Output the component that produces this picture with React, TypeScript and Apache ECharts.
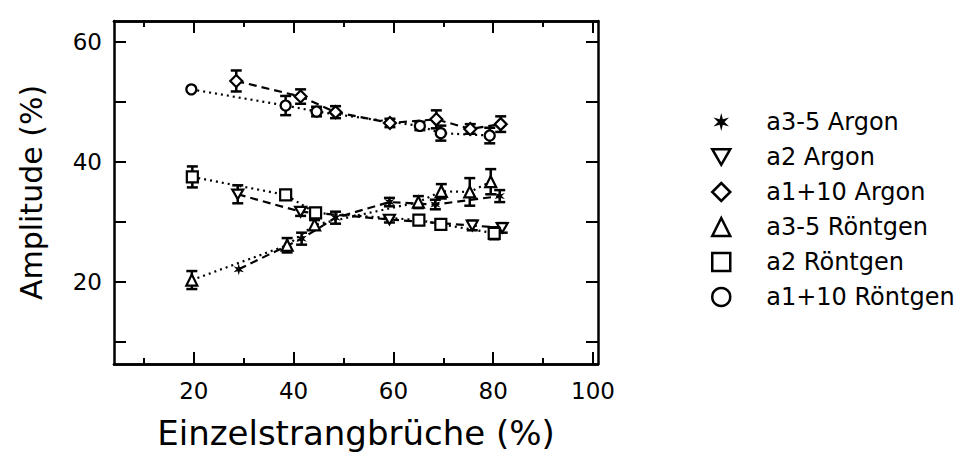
import React, { useEffect, useRef } from "react";
import * as echarts from "echarts";

// ---- axis ticks ----
const xMajorTicks = [20, 40, 60, 80, 100];
const xMinorTicks = [10, 30, 50, 70, 90];
const yTicks = [10, 20, 30, 40, 50, 60];
const yLabels = [20, 40, 60];

// ---- series names ----
const seriesNames = [
  "a3-5 Argon",
  "a2 Argon",
  "a1+10 Argon",
  "a3-5 Röntgen",
  "a2 Röntgen",
  "a1+10 Röntgen",
];

// ---- data (x = Einzelstrangbrüche %, y = Amplitude %, err = half error bar) ----
const a35ArgonX = [29, 41.6, 48.4, 59.2, 68.4, 81.3];
const a35ArgonY = [22.1, 27.2, 30.7, 33.3, 32.9, 34.3];
const a35ArgonErr = [0, 1.0, 1.0, 0.7, 0.8, 1.0];

const a2ArgonX = [28.8, 41.4, 59.2, 75.8, 81.8];
const a2ArgonY = [34.6, 31.7, 30.4, 29.4, 29.0];
const a2ArgonErr = [1.5, 0.7, 0.5, 0.8, 0.8];

const a110ArgonX = [28.5, 41.4, 48.4, 59.3, 68.6, 75.4, 81.5];
const a110ArgonY = [53.5, 50.9, 48.3, 46.5, 47.1, 45.5, 46.3];
const a110ArgonErr = [1.75, 1.2, 1.0, 0.7, 1.5, 0.8, 1.3];

const a35RoentgenX = [19.6, 38.7, 44.2, 65.0, 69.6, 75.3, 79.5];
const a35RoentgenY = [20.3, 26.1, 29.5, 33.3, 35.1, 35.0, 36.7];
const a35RoentgenErr = [1.5, 1.2, 0.8, 1.0, 1.2, 2.3, 2.1];

const a2RoentgenX = [19.7, 38.4, 44.4, 65.1, 69.5, 80.2];
const a2RoentgenY = [37.5, 34.5, 31.5, 30.3, 29.6, 28.1];
const a2RoentgenErr = [1.75, 0, 0.8, 0.8, 0.8, 1.0];

const a110RoentgenX = [19.5, 38.4, 44.6, 65.3, 69.5, 79.3];
const a110RoentgenY = [52.1, 49.4, 48.4, 46.0, 44.8, 44.4];
const a110RoentgenErr = [0, 1.6, 0.8, 0.7, 1.25, 1.3];

// ---- symbols ----
function starPath(): string {
  const pts: string[] = [];
  for (let k = 0; k < 12; k++) {
    const r = k % 2 === 0 ? 10 : 3.6;
    const a = (-90 + k * 30) * (Math.PI / 180);
    pts.push((10 + r * Math.cos(a)).toFixed(2) + "," + (10 + r * Math.sin(a)).toFixed(2));
  }
  return "path://M" + pts.join("L") + "Z";
}
const STAR = starPath();
const DOWN_TRI = "path://M0,0L20,0L10,17.3Z";

const FONT = "DejaVu Sans";

export default function App() {
  const ref = useRef<HTMLDivElement>(null);

  useEffect(() => {
    if (!ref.current) return;
    const chart = echarts.init(ref.current, null, { renderer: "svg" });

    const zip = (xs: number[], ys: number[]) => xs.map((x, i) => [x, ys[i]]);
    const errData: number[][] = [];
    const addErr = (xs: number[], ys: number[], es: number[]) => {
      xs.forEach((x, i) => {
        if (es[i] > 0) errData.push([x, ys[i] - es[i], ys[i] + es[i]]);
      });
    };
    addErr(a35ArgonX, a35ArgonY, a35ArgonErr);
    addErr(a2ArgonX, a2ArgonY, a2ArgonErr);
    addErr(a110ArgonX, a110ArgonY, a110ArgonErr);
    addErr(a35RoentgenX, a35RoentgenY, a35RoentgenErr);
    addErr(a2RoentgenX, a2RoentgenY, a2RoentgenErr);
    addErr(a110RoentgenX, a110RoentgenY, a110RoentgenErr);

    const hollow = { color: "#fff", borderColor: "#000", borderWidth: 2.2 };
    const dashed = { color: "#000", width: 2.2, type: [8, 5] as any };
    const dotted = { color: "#000", width: 2.2, type: [2, 4] as any };

    const mkLine = (name: string, data: number[][], symbol: string, itemStyle: any, lineStyle: any, size = 11) => ({
      name,
      type: "line",
      data,
      symbol,
      symbolSize: size,
      symbolKeepAspect: true,
      itemStyle,
      lineStyle,
      z: 3,
      emphasis: { disabled: true },
    });

    const xBase = {
      type: "value",
      min: 4,
      max: 101,
      gridIndex: 0,
      splitLine: { show: false },
      axisLine: { show: true, onZero: false, lineStyle: { color: "#000", width: 2.5 } },
    };
    const yBase = {
      type: "value",
      min: 6.3,
      max: 63.5,
      gridIndex: 0,
      splitLine: { show: false },
      axisLine: { show: true, onZero: false, lineStyle: { color: "#000", width: 2.5 } },
    };

    const option: any = {
      animation: false,
      backgroundColor: "#fff",
      grid: { left: 114, top: 21, width: 484, height: 343 },
      xAxis: [
        {
          ...xBase,
          position: "bottom",
          name: "Einzelstrangbrüche (%)",
          nameLocation: "middle",
          nameGap: 52,
          nameTextStyle: { fontFamily: FONT, fontSize: 34, color: "#000" },
          axisTick: { show: true, inside: true, length: 12, customValues: xMajorTicks, lineStyle: { color: "#000", width: 2 } },
          axisLabel: { show: true, customValues: xMajorTicks, fontFamily: FONT, fontSize: 23, color: "#000", margin: 15 },
        },
        {
          ...xBase,
          position: "bottom",
          axisTick: { show: true, inside: true, length: 6, customValues: xMinorTicks, lineStyle: { color: "#000", width: 2 } },
          axisLabel: { show: false },
        },
        {
          ...xBase,
          position: "top",
          axisTick: { show: true, inside: true, length: 12, customValues: xMajorTicks, lineStyle: { color: "#000", width: 2 } },
          axisLabel: { show: false },
        },
        {
          ...xBase,
          position: "top",
          axisTick: { show: true, inside: true, length: 6, customValues: xMinorTicks, lineStyle: { color: "#000", width: 2 } },
          axisLabel: { show: false },
        },
      ],
      yAxis: [
        {
          ...yBase,
          position: "left",
          name: "Amplitude (%)",
          nameLocation: "middle",
          nameGap: 68,
          nameTextStyle: { fontFamily: FONT, fontSize: 30, color: "#000" },
          axisTick: { show: true, inside: true, length: 12, customValues: yTicks, lineStyle: { color: "#000", width: 2 } },
          axisLabel: { show: true, customValues: yLabels, fontFamily: FONT, fontSize: 23, color: "#000", margin: 12 },
        },
        {
          ...yBase,
          position: "right",
          axisTick: { show: true, inside: true, length: 12, customValues: yTicks, lineStyle: { color: "#000", width: 2 } },
          axisLabel: { show: false },
        },
      ],
      legend: {
        orient: "vertical",
        left: 711,
        top: 110,
        padding: 0,
        itemWidth: 18,
        itemHeight: 18,
        itemGap: 11,
        selectedMode: false,
        textStyle: { fontFamily: FONT, fontSize: 24, color: "#000", padding: [0, 0, 0, 31] },
        data: [
          { name: seriesNames[0], icon: STAR, itemStyle: { color: "#000", borderWidth: 0 } },
          { name: seriesNames[1], icon: DOWN_TRI, itemStyle: { ...hollow, borderWidth: 2.5 } },
          { name: seriesNames[2], icon: "diamond", itemStyle: { ...hollow, borderWidth: 2.5 } },
          { name: seriesNames[3], icon: "triangle", itemStyle: { ...hollow, borderWidth: 2.5 } },
          { name: seriesNames[4], icon: "rect", itemStyle: { ...hollow, borderWidth: 2.5 } },
          { name: seriesNames[5], icon: "circle", itemStyle: { ...hollow, borderWidth: 2.5 } },
        ],
      },
      series: [
        {
          name: "errors",
          type: "custom",
          xAxisIndex: 0,
          yAxisIndex: 0,
          data: errData,
          encode: { x: 0, y: [1, 2] },
          z: 2,
          silent: true,
          renderItem: (params: any, api: any) => {
            const x = api.value(0);
            const p1 = api.coord([x, api.value(1)]);
            const p2 = api.coord([x, api.value(2)]);
            const st = { stroke: "#000", lineWidth: 2.5 };
            return {
              type: "group",
              children: [
                { type: "line", shape: { x1: p1[0], y1: p1[1], x2: p2[0], y2: p2[1] }, style: st },
                { type: "line", shape: { x1: p1[0] - 5.5, y1: p1[1], x2: p1[0] + 5.5, y2: p1[1] }, style: st },
                { type: "line", shape: { x1: p2[0] - 5.5, y1: p2[1], x2: p2[0] + 5.5, y2: p2[1] }, style: st },
              ],
            };
          },
        },
        mkLine(seriesNames[0], zip(a35ArgonX, a35ArgonY), STAR, { color: "#000", borderWidth: 0 }, dashed, 12),
        mkLine(seriesNames[1], zip(a2ArgonX, a2ArgonY), DOWN_TRI, hollow, dashed),
        mkLine(seriesNames[2], zip(a110ArgonX, a110ArgonY), "diamond", hollow, dashed, 12),
        mkLine(seriesNames[3], zip(a35RoentgenX, a35RoentgenY), "triangle", hollow, dotted),
        mkLine(seriesNames[4], zip(a2RoentgenX, a2RoentgenY), "rect", hollow, dotted),
        mkLine(seriesNames[5], zip(a110RoentgenX, a110RoentgenY), "circle", hollow, dotted, 10),
      ],
    };

    chart.setOption(option);
    return () => chart.dispose();
  }, []);

  return (
    <div
      ref={ref}
      style={{ position: "fixed", left: 0, top: 0, width: 960, height: 467, background: "#fff" }}
    />
  );
}
